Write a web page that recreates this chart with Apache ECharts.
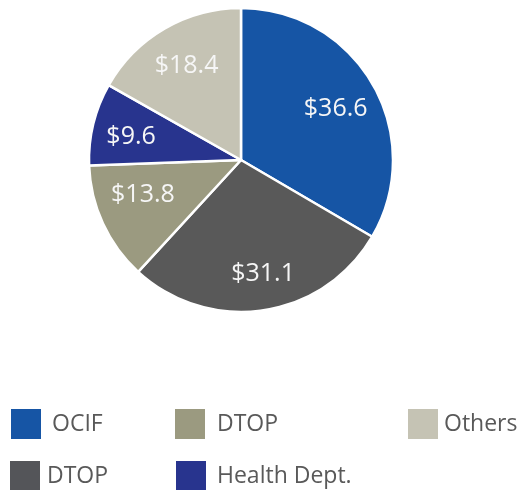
<!DOCTYPE html>
<html><head><meta charset="utf-8">
<script src="https://cdn.jsdelivr.net/npm/echarts@6/dist/echarts.min.js"></script>
<style>html,body{margin:0;padding:0;background:#fff}#c{width:521px;height:490px}</style>
</head><body><div id="c"></div>
<script>
var categories = ['OCIF', 'DTOP', 'DTOP', 'Health Dept.', 'Others'];
var values = [36.6, 31.1, 13.8, 9.6, 18.4];
var colors = ['#1655a5', '#595959', '#9b9a80', '#28348e', '#c5c3b4'];
var legendColors = ['#1655a5', '#545559', '#9b9a80', '#28348e', '#c5c3b4'];

// unique internal names (duplicate "DTOP" labels)
var names = categories.map(function (c, i) { return c + '\u200b'.repeat(i); });
var clean = function (n) { return n.replace(/\u200b/g, ''); };

var mainData = names.map(function (n, i) {
  return { name: n, value: values[i], itemStyle: { color: colors[i] } };
});
var labelData = names.map(function (n, i) {
  return { name: n, value: values[i], itemStyle: { color: 'rgba(0,0,0,0)' } };
});

// small label nudges (Excel "best fit" placement)
var labelNudge = [[1, 3], [6, 7], [0, -10], [-5, 3], [0, -1]];

// legend layout: column-major, 2 rows
var legendPos = [
  { left: 11, top: 409, pad: 6 },
  { left: 10, top: 461, pad: 2 },
  { left: 175, top: 409, pad: 7 },
  { left: 176, top: 461, pad: 6 },
  { left: 408, top: 409, pad: 1 }
];
var legends = names.map(function (n, i) {
  return {
    data: [{ name: n, itemStyle: { color: legendColors[i], borderWidth: 0 } }],
    left: legendPos[i].left, top: legendPos[i].top, padding: 0,
    icon: 'rect', itemWidth: 30, itemHeight: 30,
    itemStyle: { borderWidth: 0 },
    selectedMode: false,
    formatter: clean,
    textStyle: { fontFamily: 'Open Sans', fontSize: 23, color: '#595959',
      padding: [0, 0, 0, legendPos[i].pad] }
  };
});

var chart = echarts.init(document.getElementById('c'), null, { renderer: 'canvas' });
chart.setOption({
  animation: false,
  legend: legends,
  series: [
    {
      type: 'pie', center: [241, 160], radius: [0, 152], startAngle: 90, clockwise: true,
      data: mainData, label: { show: false }, labelLine: { show: false },
      itemStyle: { borderColor: '#ffffff', borderWidth: 2.5 },
      emphasis: { disabled: true }
    },
    {
      type: 'pie', center: [241, 160], radius: [58, 152], startAngle: 90, clockwise: true,
      data: labelData, silent: true,
      itemStyle: { borderWidth: 0 },
      label: { show: true, position: 'inside', fontFamily: 'Open Sans', fontSize: 25,
        color: '#f6f6f6', formatter: function (p) { return '$' + p.value.toFixed(1); } },
      labelLayout: function (p) {
        var d = labelNudge[p.dataIndex] || [0, 0];
        return { dx: d[0], dy: d[1] };
      },
      labelLine: { show: false },
      emphasis: { disabled: true }
    }
  ]
});
</script></body></html>
